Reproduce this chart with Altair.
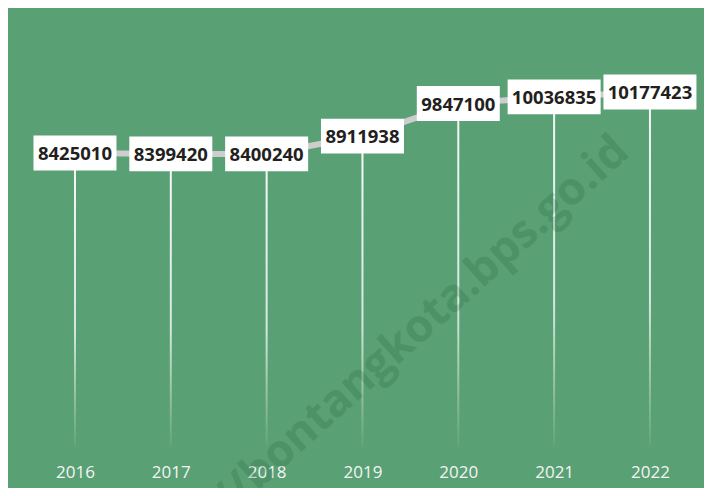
import altair as alt
import pandas as pd

years = [2016, 2017, 2018, 2019, 2020, 2021, 2022]
values = [8425010, 8399420, 8400240, 8911938, 9847100, 10036835, 10177423]
labels = [str(v) for v in values]

df = pd.DataFrame({
    "year": years,
    "value": values,
    "label": labels,
    "digits": [len(s) for s in labels],
})

BG = "#59a074"

x = alt.X(
    "year:Q",
    scale=alt.Scale(domain=[2015.301, 2022.564], nice=False, zero=False, padding=0),
    axis=alt.Axis(
        values=years, format="d", domain=False, ticks=False, grid=False,
        labelPadding=-16, labelBaseline="middle", labelFont="Open Sans",
        labelFontSize=17, labelColor="#f4f4f4", title=None, labelFlush=False,
        labelOverlap=False,
    ),
)
y = alt.Y(
    "value:Q",
    scale=alt.Scale(domain=[-1198000, 12591000], nice=False, zero=False, padding=0),
    axis=None,
)

base = alt.Chart(df).encode(x=x, y=y)

stems = base.mark_bar(
    width=2,
    color=alt.Gradient(
        gradient="linear", x1=0, x2=0, y1=0, y2=1,
        stops=[
            alt.GradientStop(color="rgba(255,255,255,0.95)", offset=0),
            alt.GradientStop(color="rgba(255,255,255,0.75)", offset=0.6),
            alt.GradientStop(color="rgba(255,255,255,0.05)", offset=1),
        ],
    ),
).encode(y2=alt.datum(0))

line = base.mark_line(color="#cdcdcd", strokeWidth=6)

box7 = base.transform_filter("datum.digits == 7").mark_point(
    shape="M-1,-0.42H1V0.42H-1Z", filled=True, color="white", opacity=1,
    size=83 * 83, strokeWidth=0,
)
box8 = base.transform_filter("datum.digits == 8").mark_point(
    shape="M-1,-0.375H1V0.375H-1Z", filled=True, color="white", opacity=1,
    size=93 * 93, strokeWidth=0,
)

text = base.mark_text(
    font="Open Sans", fontWeight="bold", fontSize=18.5, color="#231f20",
    baseline="middle", dy=1,
).encode(text="label:N")

watermark = alt.Chart(pd.DataFrame({"t": ["http://bontangkota.bps.go.id"]})).mark_text(
    font="Open Sans", fontWeight="bold", fontSize=45, color="#1f5a33", opacity=0.2,
    angle=318, baseline="middle", align="center",
).encode(
    x=alt.value(372),
    y=alt.value(354),
    text="t:N",
)

chart = alt.layer(stems, line, box7, box8, text, watermark).properties(
    width=696, height=480, background=BG, padding=0,
    autosize=alt.AutoSizeParams(type="none"),
).configure_view(strokeWidth=0)

chart.save("out.html", embed_options={"renderer": "svg", "actions": False})
